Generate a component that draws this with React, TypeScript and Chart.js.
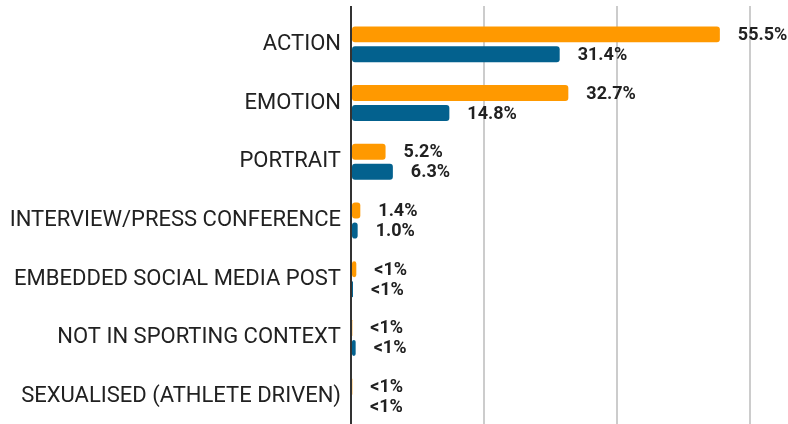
import React, { useEffect, useRef } from "react";
import { Chart, registerables } from "chart.js";

Chart.register(...registerables);

const categories = [
  "ACTION",
  "EMOTION",
  "PORTRAIT",
  "INTERVIEW/PRESS CONFERENCE",
  "EMBEDDED SOCIAL MEDIA POST",
  "NOT IN SPORTING CONTEXT",
  "SEXUALISED (ATHLETE DRIVEN)",
];

const orangeValues = [55.5, 32.7, 5.2, 1.4, 0.8, 0.2, 0.2];
const blueValues = [31.4, 14.8, 6.3, 1.0, 0.3, 0.7, 0.15];

const orangeLabels = ["55.5%", "32.7%", "5.2%", "1.4%", "<1%", "<1%", "<1%"];
const blueLabels = ["31.4%", "14.8%", "6.3%", "1.0%", "<1%", "<1%", "<1%"];

const ORANGE = "#ff9900";
const BLUE = "#03618e";

const valueLabelPlugin = {
  id: "valueLabels",
  afterDatasetsDraw(chart: any) {
    const ctx = chart.ctx;
    ctx.save();
    ctx.font = "bold 18px Roboto";
    ctx.fillStyle = "#212121";
    ctx.textAlign = "left";
    ctx.textBaseline = "middle";
    chart.data.datasets.forEach((ds: any, di: number) => {
      const meta = chart.getDatasetMeta(di);
      const labels = di === 0 ? orangeLabels : blueLabels;
      meta.data.forEach((bar: any, i: number) => {
        ctx.fillText(labels[i], bar.x + 18, bar.y + 1);
      });
    });
    ctx.restore();
  },
};

export default function App() {
  const ref = useRef<HTMLCanvasElement | null>(null);

  useEffect(() => {
    if (!ref.current) return;
    const chart = new Chart(ref.current, {
      type: "bar",
      data: {
        labels: categories,
        datasets: [
          {
            label: "Orange",
            data: orangeValues,
            backgroundColor: ORANGE,
            borderRadius: 3,
            borderSkipped: false,
            barPercentage: 0.8,
            categoryPercentage: 0.68,
          },
          {
            label: "Blue",
            data: blueValues,
            backgroundColor: BLUE,
            borderRadius: 3,
            borderSkipped: false,
            barPercentage: 0.8,
            categoryPercentage: 0.68,
          },
        ],
      },
      options: {
        indexAxis: "y",
        animation: false,
        responsive: true,
        maintainAspectRatio: false,
        layout: { padding: { top: 6, right: 5, bottom: 4, left: 0 } },
        plugins: {
          legend: { display: false },
          tooltip: { enabled: false },
        },
        scales: {
          x: {
            position: "top",
            min: 0,
            max: 65,
            ticks: { display: false, stepSize: 20, includeBounds: false },
            border: { display: false },
            grid: {
              drawTicks: true,
              tickLength: 9,
              color: (c: any) => (c.tick && c.tick.value === 0 ? "#333333" : "#cccccc"),
              lineWidth: 2,
            },
            afterFit: (s: any) => {
              s.height = 9;
              s.paddingLeft = 0;
              s.paddingRight = 0;
            },
          },
          y: {
            border: { display: false },
            grid: { display: false },
            ticks: {
              color: "#212121",
              font: { family: "Roboto", size: 22 },
              padding: 2,
            },
            afterFit: (s: any) => {
              s.width = 351;
              s.paddingTop = 0;
              s.paddingBottom = 0;
            },
          },
        },
      },
      plugins: [valueLabelPlugin],
    });
    return () => chart.destroy();
  }, []);

  return (
    <div style={{ position: "absolute", left: 0, top: 0, width: 788, height: 430, background: "#fff" }}>
      <canvas ref={ref} />
    </div>
  );
}
